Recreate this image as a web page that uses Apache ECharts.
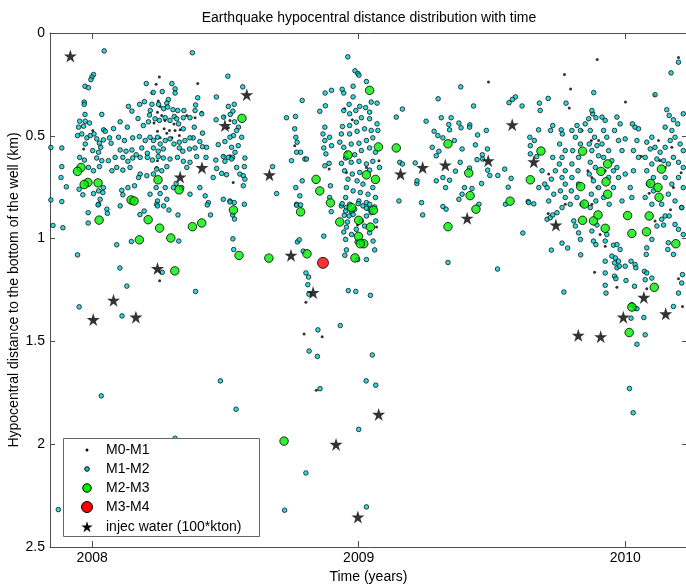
<!DOCTYPE html>
<html>
<head>
<meta charset="utf-8">
<title>Earthquake hypocentral distance distribution with time</title>
<script src="https://cdn.jsdelivr.net/npm/echarts@6/dist/echarts.min.js"></script>
<style>
  html, body { margin: 0; padding: 0; background: #fff; }
  #chart { width: 686px; height: 584px; }
</style>
</head>
<body>
<div id="chart"></div>
<script>
// Time in decimal years, distance in km below the bottom of the well.
const xTicks = [2008, 2009, 2010];
const yTicks = [0, 0.5, 1, 1.5, 2, 2.5];

// M0-M1 events
const m01 = [
[2008.252,0.214],[2008.240,0.249],[2008.224,0.292],[2008.248,0.331],[2008.255,0.357],[2008.245,0.385],[2008.261,0.401],[2008.273,0.425],[2008.232,0.438],[2008.270,0.466],[2008.245,0.478],[2008.280,0.487],[2008.255,0.510],[2008.299,0.510],[2008.290,0.474],[2008.307,0.442],[2008.330,0.471],[2008.327,0.499],[2008.386,0.412],[2008.411,0.385],[2008.396,0.246],[2008.496,0.406],[2008.517,0.425],[2008.511,0.461],[2008.494,0.597],[2008.517,0.597],[2008.529,0.727],[2007.968,0.564],[2008.002,0.474],[2008.355,0.401],[2008.311,0.474],[2008.245,0.621],[2008.242,0.654],[2008.253,1.205],
[2008.760,0.548],[2008.954,0.580],[2008.976,0.422],[2008.947,0.368],[2009.076,0.621],[2008.889,0.662],[2009.487,0.238],[2008.954,0.678],[2009.029,0.654],
[2008.802,1.309],[2008.795,1.464],[2008.863,1.477],[2008.996,0.934],[2009.067,0.944],[2008.841,1.738],
[2009.895,0.129],[2009.772,0.202],[2009.795,0.272],[2010.001,0.336],[2010.200,0.119],[2010.110,0.303],[2009.838,0.474],[2009.873,0.523],[2009.900,0.523],[2009.860,0.670],[2009.875,0.703],[2009.894,0.752],[2009.925,0.670],[2009.875,0.833],[2009.775,0.833],[2010.125,0.523],[2010.175,0.556],[2010.150,0.654],[2010.181,0.752],[2009.713,0.686],[2009.790,0.365],
[2009.885,1.164],[2010.081,1.244],[2010.215,1.330],[2009.711,0.878],[2009.925,1.037],[2009.906,0.980],[2010.112,0.914],[2010.200,1.195],[2009.969,1.237],
[2010.130,0.620],[2010.090,0.780],[2010.170,0.860],[2010.060,0.600],[2010.210,0.680]
];

// M1-M2 events
const m12 = [
[2008.045,0.087],[2008.376,0.096],
[2008.005,0.202],[2007.999,0.214],[2007.995,0.227],[2007.973,0.259],[2007.986,0.266],[2008.203,0.246],[2008.299,0.246],[2008.311,0.272],[2008.311,0.292],[2008.229,0.289],[2008.263,0.285],[2008.565,0.262],[2008.509,0.210],
[2007.970,0.336],[2007.970,0.347],[2007.973,0.396],[2008.036,0.396],[2008.136,0.357],[2008.149,0.380],[2008.178,0.347],[2008.196,0.334],[2008.218,0.377],[2008.224,0.347],[2008.249,0.347],[2008.268,0.368],[2008.286,0.324],[2008.280,0.341],[2008.283,0.360],[2008.303,0.373],[2008.321,0.377],[2008.344,0.377],[2008.308,0.406],[2008.388,0.350],[2008.396,0.315],[2008.386,0.377],[2008.411,0.393],[2008.466,0.311],[2008.511,0.357],[2008.533,0.347],[2008.528,0.380],[2008.518,0.396],[2008.465,0.422],[2008.493,0.409],[2008.534,0.432],[2008.549,0.458],
[2007.953,0.429],[2007.974,0.429],[2007.990,0.438],[2007.949,0.458],[2007.968,0.453],[2008.105,0.432],[2008.080,0.465],[2008.043,0.471],[2008.049,0.478],[2008.132,0.458],[2008.172,0.416],[2008.215,0.399],[2008.211,0.432],[2008.192,0.450],[2008.236,0.417],[2008.252,0.425],[2008.274,0.412],[2008.292,0.425],[2008.317,0.417],[2008.342,0.412],[2008.324,0.442],[2008.367,0.412],[2008.383,0.458],[2008.342,0.466],[2008.414,0.487],[2008.379,0.510],[2008.542,0.474],[2008.530,0.499],[2008.517,0.507],[2008.561,0.507],
[2007.945,0.499],[2007.961,0.491],[2007.980,0.510],[2007.993,0.499],[2008.007,0.491],[2008.017,0.515],[2008.027,0.536],[2008.042,0.520],[2008.065,0.510],[2008.071,0.536],[2008.099,0.507],[2008.121,0.523],[2008.152,0.510],[2008.177,0.504],[2008.199,0.523],[2008.217,0.507],[2008.230,0.523],[2008.245,0.507],[2008.255,0.540],[2008.274,0.523],[2008.292,0.515],[2008.307,0.540],[2008.327,0.531],[2008.348,0.523],[2008.367,0.510],[2008.404,0.528],[2008.429,0.556],
[2007.886,0.559],[2007.974,0.540],[2008.002,0.572],[2008.032,0.556],[2008.024,0.580],[2008.105,0.569],[2008.127,0.575],[2008.149,0.569],[2008.165,0.592],[2008.186,0.559],[2008.207,0.585],[2008.230,0.559],[2008.248,0.575],[2008.267,0.564],[2008.327,0.559],[2008.340,0.575],[2008.365,0.564],[2008.386,0.559],[2008.414,0.553],[2008.473,0.543],[2008.498,0.528],[2008.523,0.556],[2008.536,0.580],[2008.492,0.601],[2008.511,0.605],[2008.527,0.605],[2008.573,0.608],[2008.548,0.548],
[2007.886,0.650],[2007.883,0.703],[2007.953,0.605],[2007.971,0.618],[2008.017,0.608],[2008.036,0.621],[2008.027,0.650],[2008.005,0.670],[2007.986,0.654],[2008.061,0.621],[2008.086,0.605],[2008.115,0.605],[2008.134,0.624],[2008.152,0.608],[2008.180,0.605],[2008.207,0.605],[2008.226,0.618],[2008.248,0.601],[2008.267,0.608],[2008.292,0.613],[2008.320,0.605],[2008.342,0.624],[2008.392,0.601],[2008.427,0.605],[2008.464,0.618],[2008.498,0.624],[2008.523,0.613],[2008.571,0.650],[2008.542,0.654],[2008.554,0.686],[2008.567,0.694],[2008.467,0.659],[2008.454,0.703],[2008.486,0.683],[2008.504,0.689],[2008.367,0.629],[2008.355,0.654],[2008.280,0.650],[2008.261,0.670],[2008.242,0.662],[2008.230,0.686],[2008.205,0.694],[2008.180,0.686],[2008.174,0.703],[2008.142,0.654],[2008.115,0.667],[2008.092,0.654],[2008.074,0.670],
[2007.903,0.748],[2007.886,0.820],[2007.951,0.760],[2007.965,0.787],[2008.005,0.781],[2008.024,0.768],[2008.040,0.776],[2008.042,0.752],[2008.030,0.809],[2008.111,0.765],[2008.115,0.787],[2008.134,0.752],[2008.159,0.743],[2008.217,0.784],[2008.240,0.752],[2008.255,0.781],[2008.274,0.752],[2008.280,0.809],[2008.268,0.841],[2008.245,0.817],[2008.315,0.732],[2008.305,0.752],[2008.336,0.752],[2008.367,0.784],[2008.404,0.752],[2008.424,0.792],[2008.436,0.825],[2008.492,0.809],[2008.517,0.817],[2008.533,0.825],[2008.567,0.743],[2008.573,0.711],[2008.571,0.833],[2008.024,0.833],[2008.055,0.857],[2008.105,0.841],[2008.195,0.866],[2008.242,0.833],
[2008.022,0.836],[2008.057,0.877],[2007.985,0.874],[2007.985,0.924],[2007.853,0.936],[2007.890,0.947],[2008.092,1.030],[2008.147,1.014],[2007.945,1.079],[2008.104,1.143],[2008.130,1.231],[2007.951,1.332],[2008.112,1.376],[2008.388,1.257],[2008.263,1.164],[2008.179,0.883],[2008.245,0.841],[2008.288,0.861],[2008.322,0.885],[2008.432,0.836],[2008.444,0.885],[2008.517,0.822],[2008.527,0.885],[2008.534,0.905],[2008.528,1.001],[2008.531,1.053],[2008.325,1.012],[2008.481,1.692],
[2007.845,0.557],[2007.845,0.812],[2007.873,2.318],[2008.311,1.971],[2008.034,1.765],[2008.540,1.830],
[2008.959,0.116],[2008.986,0.184],[2008.997,0.197],[2009.001,0.205],[2009.029,0.236],[2008.874,0.292],[2008.898,0.279],[2008.938,0.274],[2008.944,0.292],[2008.979,0.259],[2008.788,0.328],[2008.729,0.412],[2008.763,0.406],[2008.854,0.381],[2008.875,0.354],[2008.979,0.311],[2008.964,0.347],[2008.944,0.377],[2008.966,0.393],[2008.989,0.377],[2009.004,0.357],[2009.026,0.363],[2009.041,0.385],[2009.047,0.336],[2009.069,0.341],[2009.069,0.442],[2009.041,0.417],[2009.010,0.412],[2008.991,0.434],[2008.966,0.450],[2008.939,0.455],[2008.935,0.491],[2008.966,0.491],[2008.994,0.478],[2009.022,0.466],[2009.047,0.474],[2009.072,0.474],[2009.053,0.510],[2009.029,0.523],[2009.001,0.536],[2008.972,0.540],[2008.944,0.556],[2008.929,0.531],[2009.041,0.559],[2009.063,0.580],[2009.010,0.572],[2008.985,0.592],[2008.951,0.608],[2008.935,0.634],[2008.972,0.629],[2009.001,0.624],[2009.029,0.637],[2009.053,0.624],[2009.078,0.654],[2008.947,0.670],[2008.976,0.686],[2009.004,0.678],[2009.041,0.667],[2008.960,0.711],[2008.994,0.719],[2009.016,0.735],[2009.053,0.752],[2008.954,0.752],[2008.979,0.768],[2009.006,0.776],[2009.035,0.784],[2009.063,0.800],[2008.951,0.800],[2009.001,0.817],[2009.029,0.825],[2008.966,0.833],[2008.935,0.841],[2009.041,0.857],
[2008.873,0.458],[2008.866,0.491],[2008.873,0.523],[2008.869,0.559],[2008.877,0.588],[2008.891,0.507],[2008.898,0.548],[2008.889,0.634],[2008.873,0.646],[2008.894,0.743],[2008.891,0.800],[2008.760,0.466],[2008.764,0.507],[2008.769,0.531],[2008.767,0.580],[2008.782,0.580],[2008.798,0.613],[2008.804,0.613],[2008.748,0.621],[2008.677,0.650],[2008.692,0.781],[2008.764,0.752],[2008.779,0.792],[2008.767,0.833],[2008.788,0.719],
[2009.141,0.409],[2009.164,0.370],[2009.154,0.629],[2009.164,0.637],[2009.151,0.817],[2009.236,0.825],[2009.218,0.732],[2009.212,0.632],[2009.253,0.429],[2009.298,0.320],[2009.383,0.262],[2009.283,0.478],[2009.297,0.499],[2009.316,0.510],[2009.338,0.445],[2009.341,0.471],[2009.310,0.412],[2009.347,0.412],[2009.376,0.438],[2009.384,0.461],[2009.276,0.556],[2009.291,0.597],[2009.301,0.575],[2009.359,0.523],[2009.388,0.564],[2009.381,0.629],[2009.363,0.672],[2009.341,0.716],[2009.316,0.703],[2009.326,0.752],[2009.291,0.719],[2009.397,0.752],[2009.388,0.784],[2009.376,0.809],[2009.316,0.844],[2009.328,0.857],[2009.219,0.719],
[2008.767,0.838],[2008.782,0.836],[2008.897,0.869],[2008.938,0.830],[2008.954,0.849],[2008.951,0.866],[2008.946,0.887],[2008.964,0.890],[2008.944,0.968],[2008.954,0.944],[2008.958,0.919],[2008.951,1.004],[2008.994,1.016],[2009.054,1.012],[2008.954,1.055],[2008.948,1.081],[2009.060,1.055],[2009.029,1.102],[2008.996,1.102],[2008.869,0.988],[2008.770,1.016],[2008.777,1.006],[2008.792,1.061],[2008.802,1.167],[2008.812,1.187],[2008.809,1.224],[2008.813,1.270],[2008.961,1.253],[2008.989,1.257],[2009.044,1.276],[2008.931,1.423],[2008.847,1.444],[2008.814,1.547],[2008.845,1.573],[2009.051,1.566],[2009.028,1.692],[2009.240,0.885],[2009.335,1.116],
[2008.973,0.869],[2008.979,0.882],[2008.985,0.857],[2008.998,0.830],[2009.016,0.841],[2009.029,0.852],[2009.041,0.833],[2009.047,0.874],[2009.029,0.890],[2009.010,0.914],[2009.022,0.939],[2008.991,0.955],[2008.973,0.980],[2009.041,0.972],[2009.060,0.846],[2009.064,0.914],
[2008.855,1.730],[2009.064,1.713],[2009.000,1.928],[2008.802,2.140],[2008.722,2.321],[2009.029,2.305],
[2010.016,1.729],[2010.030,1.847],
[2009.882,0.290],[2009.588,0.311],[2009.577,0.323],[2009.564,0.339],[2009.431,0.355],[2009.613,0.355],[2009.678,0.341],[2009.681,0.377],[2009.711,0.318],[2009.778,0.341],[2009.417,0.447],[2009.416,0.458],[2009.479,0.474],[2009.446,0.496],[2009.438,0.544],[2009.483,0.564],[2009.464,0.592],[2009.444,0.616],[2009.465,0.613],[2009.416,0.657],[2009.484,0.667],[2009.492,0.693],[2009.522,0.693],[2009.548,0.662],[2009.572,0.707],[2009.461,0.732],[2009.425,0.756],[2009.561,0.750],[2009.636,0.820],[2009.657,0.831],[2009.675,0.471],[2009.642,0.507],[2009.659,0.523],[2009.644,0.548],[2009.644,0.588],[2009.668,0.601],[2009.728,0.450],[2009.720,0.474],[2009.760,0.471],[2009.764,0.491],
[2009.728,0.605],[2009.738,0.670],[2009.723,0.711],[2009.707,0.752],[2009.732,0.784],[2009.713,0.817],[2009.698,0.735],[2009.676,0.752],[2009.688,0.670],
[2009.754,0.540],[2009.775,0.572],[2009.763,0.605],[2009.753,0.637],[2009.775,0.670],[2009.763,0.703],[2009.775,0.735],[2009.757,0.768],[2009.775,0.800],[2009.794,0.833],[2009.763,0.849],[2009.800,0.474],[2009.819,0.450],[2009.832,0.474],[2009.813,0.507],[2009.832,0.540],[2009.803,0.572],[2009.825,0.605],[2009.800,0.637],[2009.823,0.670],[2009.800,0.703],[2009.825,0.735],[2009.798,0.768],[2009.819,0.800],[2009.838,0.833],[2009.850,0.442],[2009.863,0.417],[2009.878,0.393],[2009.875,0.377],[2009.890,0.412],[2009.869,0.474],[2009.885,0.507],[2009.865,0.540],[2009.894,0.548],[2009.875,0.572],[2009.900,0.597],[2009.869,0.629],[2009.888,0.654],[2009.865,0.686],[2009.881,0.719],[2009.900,0.752],[2009.873,0.784],[2009.890,0.817],[2009.869,0.849],[2009.913,0.409],[2009.925,0.425],[2009.919,0.474],[2009.931,0.507],[2009.913,0.540],[2009.938,0.572],[2009.919,0.605],[2009.950,0.621],[2009.956,0.670],[2009.938,0.703],[2009.956,0.752],[2009.919,0.800],[2009.940,0.833],[2009.969,0.654],[2009.975,0.703],[2009.969,0.409],[2009.981,0.442],[2009.960,0.474],[2009.975,0.523],[2009.988,0.572],[2010.000,0.515],[2010.027,0.442],[2010.037,0.458],[2010.000,0.686],[2010.019,0.752],[2010.031,0.670],[2009.988,0.817],[2010.025,0.800],
[2010.112,0.300],[2010.156,0.373],[2010.165,0.401],[2010.181,0.422],[2010.150,0.458],[2010.175,0.474],[2010.197,0.442],[2010.218,0.393],[2010.100,0.507],[2010.081,0.531],[2010.094,0.564],[2010.112,0.556],[2010.131,0.580],[2010.150,0.556],[2010.169,0.523],[2010.187,0.507],[2010.206,0.540],[2010.218,0.572],[2010.075,0.605],[2010.100,0.637],[2010.119,0.613],[2010.144,0.621],[2010.162,0.637],[2010.181,0.605],[2010.200,0.629],[2010.218,0.654],[2010.081,0.670],[2010.106,0.703],[2010.087,0.735],[2010.106,0.768],[2010.075,0.800],[2010.100,0.833],[2010.150,0.703],[2010.175,0.735],[2010.200,0.703],[2010.218,0.752],[2010.162,0.784],[2010.187,0.817],[2010.212,0.849],[2010.137,0.833],[2010.050,0.466],[2010.044,0.523],[2010.031,0.572],[2010.050,0.605],
[2010.200,0.142],[2010.172,0.194],
[2009.616,0.973],[2009.521,1.148],[2009.723,1.056],[2009.770,1.260],[2009.763,1.022],[2009.784,1.046],[2009.833,1.079],[2009.451,0.833],[2009.551,0.833],[2009.638,0.825],[2009.707,0.906],[2009.719,0.898],[2009.744,0.874],[2009.728,0.885],[2009.807,0.914],[2009.813,0.939],[2009.825,0.972],[2009.832,1.004],[2009.875,0.963],[2009.894,0.934],[2009.881,1.012],[2009.890,1.029],[2009.925,1.012],[2009.931,0.980],[2009.956,1.032],[2009.969,1.029],[2009.981,1.053],[2009.950,1.085],[2009.963,1.094],[2009.960,1.118],[2009.975,1.110],[2009.925,1.110],[2009.925,1.167],[2009.925,1.227],[2009.928,1.265],[2009.969,1.142],[2009.978,1.134],[2009.960,1.183],[2009.965,1.195],[2010.000,1.134],[2010.022,1.110],[2010.037,1.126],[2010.040,1.142],[2010.072,1.159],[2010.081,1.167],[2010.075,1.200],[2010.100,1.192],[2010.035,1.232],[2010.003,1.204],[2010.025,1.322],[2010.037,1.338],[2010.044,1.341],[2010.022,1.387],[2010.070,1.384],[2010.075,1.468],[2010.044,1.514],
[2010.181,1.330],[2010.200,1.265],[2010.212,1.216],[2010.215,1.175],[2010.162,1.020],[2010.160,1.053],[2010.181,1.077],[2010.200,0.955],[2010.218,0.980],[2010.187,0.931],[2010.150,0.890],[2010.137,0.906],[2010.165,0.890],[2010.212,0.849],[2010.081,1.045],[2010.079,1.077],[2010.100,1.004],[2010.119,0.939],[2010.144,0.934]
];

// M2-M3 events
const m23 = [
[2007.958,0.654],[2007.945,0.673],[2007.984,0.727],[2007.970,0.737],[2008.022,0.729],[2008.247,0.714],[2008.326,0.763],[2008.146,0.812],[2008.157,0.817],[2008.530,0.861],[2008.562,0.415],[2008.026,0.910],[2008.210,0.908],[2008.253,0.949],[2008.177,1.006],[2008.295,0.997],[2008.376,0.942],[2008.411,0.924],[2008.551,1.082],[2008.663,1.095],[2008.310,1.157],
[2009.041,0.279],[2009.074,0.554],[2009.141,0.559],[2008.960,0.593],[2009.029,0.690],[2009.063,0.712],[2008.840,0.712],[2008.854,0.768],[2008.894,0.826],[2008.973,0.849],[2009.055,0.862],[2008.782,0.870],[2008.929,0.919],[2009.000,0.911],[2009.044,0.944],[2008.999,0.989],[2009.019,1.025],[2009.006,1.025],[2008.986,1.094],[2008.806,1.074],[2008.720,1.985],
[2009.335,0.539],[2009.413,0.681],[2009.418,0.791],[2009.440,0.857],[2009.335,0.942],[2009.684,0.574],[2009.644,0.714],[2009.568,0.818],
[2009.840,0.575],[2009.934,0.637],[2009.909,0.673],[2009.928,0.724],[2009.833,0.747],[2009.934,0.784],[2009.847,0.832],[2009.840,0.911],[2009.881,0.914],[2009.925,0.950],[2009.898,0.885],[2010.009,0.888],[2010.025,0.975],[2010.090,0.890],[2010.080,0.967],[2010.190,1.025],[2010.109,1.237],[2010.025,1.333],[2010.015,1.457],[2010.136,0.662],[2010.095,0.732],[2010.123,0.751],[2010.127,0.799]
];

// M3-M4 events
const m34 = [[2008.866, 1.118]];

// Injected water, in units of 100 kton
const injec = [
[2007.918,0.112],[2008.004,1.394],[2008.080,1.300],[2008.164,1.382],[2008.245,1.146],[2008.330,0.700],[2008.412,0.655],[2008.498,0.450],[2008.580,0.300],[2008.665,0.690],[2008.746,1.081],[2008.829,1.262],[2008.915,2.001],[2008.997,2.354],[2009.075,1.855],[2009.157,0.686],[2009.240,0.654],[2009.325,0.642],[2009.407,0.901],[2009.486,0.621],[2009.576,0.446],[2009.657,0.626],[2009.740,0.934],[2009.824,1.470],[2009.908,1.477],[2009.993,1.382],[2010.070,1.286],[2010.152,1.366]
];

const FONT = '"Liberation Sans", Arial, Helvetica, sans-serif';
const AXIS_COLOR = '#4d4d4d';
const STAR_PATH = 'M50,0 L61.2,34.5 L97.6,34.5 L68.2,55.9 L79.4,90.5 L50,69.1 L20.6,90.5 L31.8,55.9 L2.4,34.5 L38.8,34.5 Z';

// Marker styles per magnitude class; shared by the series and the legend box.
const classes = [
  { name: 'M0-M1', data: m01, symbol: 'circle', size: 3, legendSize: 3, fill: '#000000', stroke: null },
  { name: 'M1-M2', data: m12, symbol: 'circle', size: 4.6, legendSize: 4.6, fill: '#00d0d0', stroke: '#000000' },
  { name: 'M2-M3', data: m23, symbol: 'circle', size: 8.5, legendSize: 8.5, fill: '#00ee00', stroke: '#000000' },
  { name: 'M3-M4', data: m34, symbol: 'circle', size: 11, legendSize: 11, fill: '#ff0000', stroke: '#000000' },
  { name: 'injec water (100*kton)', data: injec, symbol: 'path://' + STAR_PATH, size: 13, legendSize: 12, fill: '#000000', stroke: null, star: true }
];

const X_MIN = 2007.8417;
const X_MAX = 2010.2319;

const baseX = {
  type: 'value', min: X_MIN, max: X_MAX,
  axisLine: { show: true, onZero: false, lineStyle: { color: AXIS_COLOR, width: 1 } },
  axisTick: { show: true, inside: true, length: 6, customValues: xTicks, lineStyle: { color: AXIS_COLOR } },
  splitLine: { show: false }
};
const baseY = {
  type: 'value', min: 0, max: 2.5, interval: 0.5, inverse: true,
  axisLine: { show: true, onZero: false, lineStyle: { color: AXIS_COLOR, width: 1 } },
  axisTick: { show: true, inside: true, length: 5, customValues: yTicks, lineStyle: { color: AXIS_COLOR } },
  splitLine: { show: false }
};

// Five-pointed star outline for the legend icon, centred on (cx, cy).
function starPoints(cx, cy, size) {
  const R = size / 2, r = R * 0.382, pts = [];
  for (let k = 0; k < 10; k++) {
    const a = -Math.PI / 2 + k * Math.PI / 5;
    const rad = k % 2 === 0 ? R : r;
    pts.push([cx + rad * Math.cos(a), cy + rad * Math.sin(a) + R * 0.05]);
  }
  return pts;
}

// Legend box drawn in the lower-left corner of the axes.
const LEG = { x: 63.5, y: 438.5, w: 196, h: 98, iconX: 87, textX: 106, rowY: [450, 469, 488, 507, 527] };
const legendGraphics = [
  { type: 'rect', z: 3, shape: { x: LEG.x, y: LEG.y, width: LEG.w, height: LEG.h },
    style: { fill: '#ffffff', stroke: '#666666', lineWidth: 1 } }
];
classes.forEach((c, i) => {
  const cy = LEG.rowY[i];
  if (c.star) {
    legendGraphics.push({ type: 'polygon', z: 4,
      shape: { points: starPoints(LEG.iconX, cy, c.legendSize) },
      style: { fill: c.fill } });
  } else {
    const st = { fill: c.fill };
    if (c.stroke) { st.stroke = c.stroke; st.lineWidth = 1; }
    legendGraphics.push({ type: 'circle', z: 4,
      shape: { cx: LEG.iconX, cy: cy, r: c.legendSize / 2 }, style: st });
  }
  legendGraphics.push({ type: 'text', z: 4, x: LEG.textX, y: cy,
    style: { text: c.name, fill: '#000', font: '14px ' + FONT, textAlign: 'left', textVerticalAlign: 'middle' } });
});

const chart = echarts.init(document.getElementById('chart'), null, { renderer: 'canvas' });
chart.setOption({
  animation: false,
  backgroundColor: '#ffffff',
  textStyle: { fontFamily: FONT },
  grid: { left: 50, right: -1, top: 33, bottom: 37, containLabel: false, outerBoundsMode: 'none' },
  xAxis: [
    Object.assign({}, baseX, {
      position: 'bottom',
      name: 'Time (years)', nameLocation: 'middle', nameGap: 18,
      nameTextStyle: { fontSize: 14, color: '#000', fontFamily: FONT },
      axisLabel: { customValues: xTicks, fontSize: 14, color: '#000', margin: 4, fontFamily: FONT,
        formatter: v => String(Math.round(v)) }
    }),
    Object.assign({}, baseX, { position: 'top', axisLabel: { show: false } })
  ],
  yAxis: [
    Object.assign({}, baseY, {
      position: 'left',
      axisLabel: { customValues: yTicks, fontSize: 14, color: '#000', margin: 5, fontFamily: FONT,
        formatter: v => String(v) }
    }),
    Object.assign({}, baseY, { position: 'right', axisLabel: { show: false } })
  ],
  graphic: [
    { type: 'text', x: 369, y: 18, z: 10,
      style: { text: 'Earthquake hypocentral distance distribution with time', fill: '#000',
               font: '14px ' + FONT, textAlign: 'center', textVerticalAlign: 'middle' } },
    // Vertical axis title, centred along the plot height.
    { type: 'text', x: 14, y: 290, rotation: Math.PI / 2, z: 10,
      style: { text: 'Hypocentral distance to the bottom of the well (km)', fill: '#000',
               font: '14px ' + FONT, textAlign: 'center', textVerticalAlign: 'middle' } }
  ].concat(legendGraphics),
  series: classes.map(c => ({
    type: 'scatter', name: c.name, data: c.data, symbol: c.symbol, symbolSize: c.size,
    itemStyle: c.stroke ? { color: c.fill, borderColor: c.stroke, borderWidth: c.size < 6 ? 0.9 : 1 }
                        : { color: c.fill },
    silent: true, z: 2
  }))
});
</script>
</body>
</html>
